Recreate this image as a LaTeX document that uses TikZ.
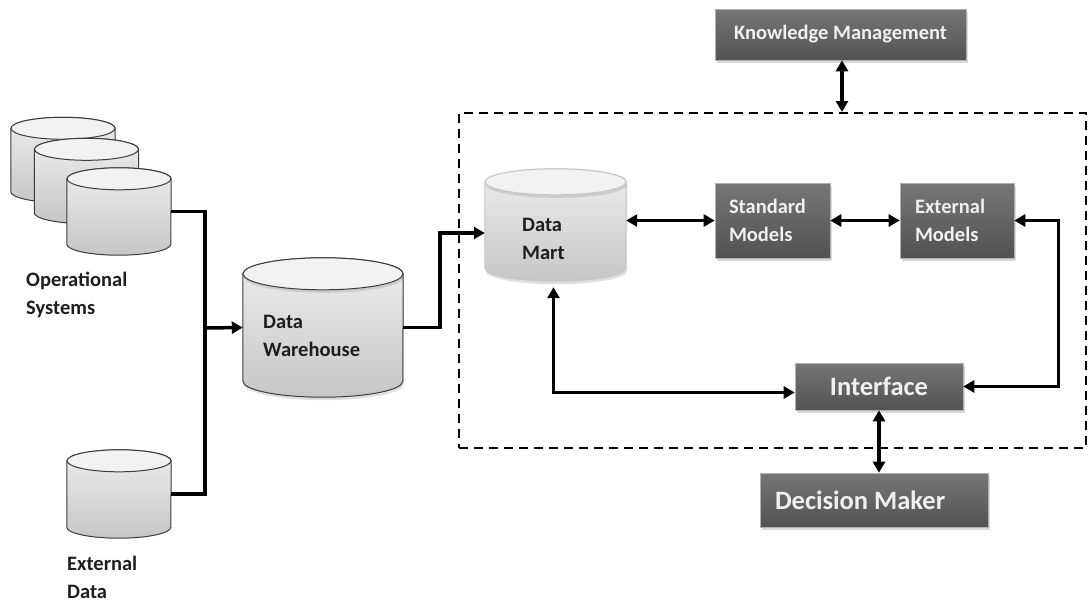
\documentclass[tikz,border=0pt]{standalone}
\usepackage{fontspec}
\setmainfont{Carlito}
\usetikzlibrary{arrows.meta,shadows,positioning}

\definecolor{cyltop}{RGB}{238,238,238}
\definecolor{cylbot}{RGB}{198,198,198}
\definecolor{cylcap}{RGB}{242,242,242}
\definecolor{cylline}{RGB}{60,60,60}
\definecolor{boxtop}{RGB}{118,118,118}
\definecolor{boxbot}{RGB}{82,82,82}
\definecolor{txtdark}{RGB}{30,30,30}

\tikzset{
  dbtext/.style={anchor=west, align=left, inner sep=0pt, text=txtdark,
    font=\fontsize{20.5}{28}\selectfont\bfseries},
  darkbox/.style={rectangle, draw=gray!60, line width=0.6pt,
    top color=boxtop, bottom color=boxbot, text=white!94!black,
    font=\fontsize{20.5}{28}\selectfont\bfseries,
    drop shadow={shadow xshift=2pt, shadow yshift=-3pt, opacity=0.3}},
  bigtext/.style={font=\fontsize{26.5}{30}\selectfont\bfseries},
  link/.style={line width=3.5pt},
  frame/.style={draw, line width=2pt, dash pattern=on 9pt off 6pt},
  drumshadow/.style={drop shadow={shadow xshift=1pt, shadow yshift=-3pt, opacity=0.25}}
}

% cylinder: [outline colour/extra], name, centre, x radius, height, y radius
\newcommand{\drum}[6][draw=cylline]{%
  \node[minimum width=2*#4pt, minimum height=#5pt, inner sep=0pt] (#2) at (#3) {};
  \path[#1, line width=1pt, top color=cyltop, bottom color=cylbot]
    ([yshift=-#6pt]#2.north west) -- ([yshift=#6pt]#2.south west)
    arc[start angle=180, end angle=360, x radius=#4pt, y radius=#6pt]
    -- ([yshift=-#6pt]#2.north east)
    arc[start angle=0, end angle=180, x radius=#4pt, y radius=#6pt] -- cycle;
  \path[#1, line width=1pt, fill=cylcap]
    ([yshift=-#6pt]#2.north) ellipse[x radius=#4pt, y radius=#6pt];
}

\begin{document}
\begin{tikzpicture}[x=1pt, y=-1pt, >={Triangle[length=11pt,width=12pt]}]
\useasboundingbox (0,0) rectangle (1088,603);

% Sources
\drum{op1}{63,160}{52}{85}{11}
\drum{op2}{86.5,181}{52}{85}{11}
\drum{op3}{119,211.5}{52}{87}{11}
\node[dbtext] (optxt) at (26,295) {Operational\\Systems};
\drum{ext}{119,494}{52}{88}{11}
\node[dbtext] (exttxt) at (67,577) {External\\Data};

% Warehouse and mart
\drum[draw=cylline, drumshadow]{dw}{323,327.5}{80}{139}{16}
\node[dbtext] (dwtxt) at (263,336) {Data\\Warehouse};
\drum[draw=gray!45, drumshadow]{dm}{555.5,225}{70.5}{112}{13}
\node[dbtext] (dmtxt) at (522,238.5) {Data\\Mart};

% Dashed system frame
\node[frame, minimum width=627, minimum height=335] (sys) at (772.5,280.5) {};

% Model and user boxes
\node[darkbox, minimum height=75, text width=87, inner xsep=14, align=flush left]
  (sm) at (772.5,220.5) {Standard\\Models};
\node[darkbox, minimum height=75, text width=84, inner xsep=15, align=flush left]
  (em) at (957,220.5) {External\\Models};
\node[darkbox, minimum width=251, minimum height=51, align=center]
  (km) at (840.5,34.5) {Knowledge Management};
\node[darkbox, bigtext, minimum width=168, minimum height=47] (ifc) at (879,386.5) {Interface};
\node[darkbox, bigtext, minimum height=54, text width=198, inner xsep=15,
  align=flush left] (dmk) at (874,500) {Decision Maker};

% Connectors
\coordinate (jn) at (205,328);
\draw[link] (op3.east) -| (jn) |- (ext.east);
\draw[link,->] (jn) -- (dw.west);
\draw[link,->] (dw.east) -- ++(37,0) |- ([yshift=-8pt]dm.west);
\draw[link,<->] (sm.west -| dm.east) -- (sm.west);
\draw[link,<->] (sm.east) -- (em.west);
\draw[link,<->] (em.east) -- ++(44,0) |- (ifc.east);
\draw[link,<->] ([xshift=-2pt,yshift=-6pt]dm.south) |- ([yshift=-6pt]ifc.west);
\draw[link,<->] (ifc.south) -- (ifc.south |- dmk.north);
\draw[link,<->] ([xshift=1.5pt]km.south) -- ([xshift=1.5pt]km.south |- sys.north);

\end{tikzpicture}
\end{document}
